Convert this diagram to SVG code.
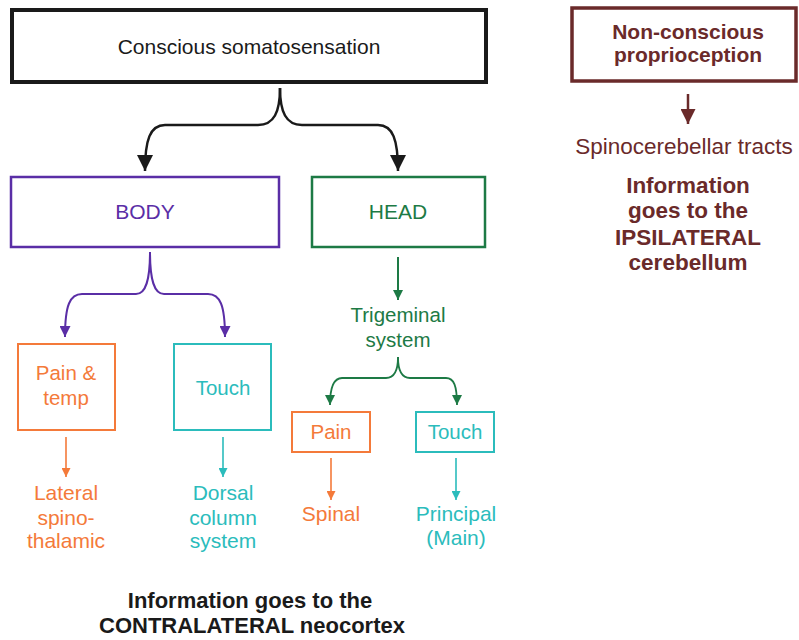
<svg xmlns="http://www.w3.org/2000/svg" width="799" height="640" viewBox="0 0 799 640">
<style>
text{font-family:"Liberation Sans",Arial,sans-serif;text-anchor:middle}
.b{font-weight:bold}
.box{fill:#fff}
.k{fill:#1a1a1a}.pu{fill:#5a2ea6}.gr{fill:#1d7a45}.or{fill:#f47a3a}.cy{fill:#2bbcbc}.mr{fill:#6a2a2a}
.c{fill:none}
</style>
<defs>
<marker id="ak" viewBox="0 0 10 10" refX="10" refY="5" markerWidth="16" markerHeight="16" markerUnits="userSpaceOnUse" orient="auto"><path d="M0,0 L10,5 L0,10 z" fill="#1a1a1a"/></marker>
<marker id="apu" viewBox="0 0 10 10" refX="10" refY="5" markerWidth="11" markerHeight="11" markerUnits="userSpaceOnUse" orient="auto"><path d="M0,0 L10,5 L0,10 z" fill="#5a2ea6"/></marker>
<marker id="agr" viewBox="0 0 10 10" refX="10" refY="5" markerWidth="10" markerHeight="10" markerUnits="userSpaceOnUse" orient="auto"><path d="M0,0 L10,5 L0,10 z" fill="#1d7a45"/></marker>
<marker id="aor" viewBox="0 0 10 10" refX="10" refY="5" markerWidth="9" markerHeight="9" markerUnits="userSpaceOnUse" orient="auto"><path d="M0,0 L10,5 L0,10 z" fill="#f47a3a"/></marker>
<marker id="acy" viewBox="0 0 10 10" refX="10" refY="5" markerWidth="9" markerHeight="9" markerUnits="userSpaceOnUse" orient="auto"><path d="M0,0 L10,5 L0,10 z" fill="#2bbcbc"/></marker>
<marker id="amr" viewBox="0 0 10 10" refX="10" refY="5" markerWidth="15" markerHeight="15" markerUnits="userSpaceOnUse" orient="auto"><path d="M0,0 L10,5 L0,10 z" fill="#6a2a2a"/></marker>
</defs>

<g id="connectors" class="c">
<path d="M280,88 C280,112 274,125 258,125 L165,125 C150,125 145,140 145,171" stroke="#1a1a1a" stroke-width="2.5" marker-end="url(#ak)"/>
<path d="M280,88 C280,112 286,125 302,125 L378,125 C393,125 398,140 398,171" stroke="#1a1a1a" stroke-width="2.5" marker-end="url(#ak)"/>
<path d="M150,252 C150,280 146,294 136,294 L82,294 C70,294 65,305 65,337" stroke="#5a2ea6" stroke-width="2" marker-end="url(#apu)"/>
<path d="M150,252 C150,280 154,294 164,294 L208,294 C220,294 225,305 225,337" stroke="#5a2ea6" stroke-width="2" marker-end="url(#apu)"/>
<path d="M398,257 L398,300" stroke="#1d7a45" stroke-width="2" marker-end="url(#agr)"/>
<path d="M398,357 C398,372 394,378 386,378 L342,378 C334,378 330,386 330,405" stroke="#1d7a45" stroke-width="1.8" marker-end="url(#agr)"/>
<path d="M398,357 C398,372 402,378 410,378 L446,378 C454,378 457,386 457,405" stroke="#1d7a45" stroke-width="1.8" marker-end="url(#agr)"/>
<path d="M66,437 L66,477" stroke="#f47a3a" stroke-width="1.6" marker-end="url(#aor)"/>
<path d="M223,437 L223,477" stroke="#2bbcbc" stroke-width="1.6" marker-end="url(#acy)"/>
<path d="M331,458 L331,500" stroke="#f47a3a" stroke-width="1.6" marker-end="url(#aor)"/>
<path d="M456,458 L456,500" stroke="#2bbcbc" stroke-width="1.6" marker-end="url(#acy)"/>
<path d="M688,94 L688,124" stroke="#6a2a2a" stroke-width="2.5" marker-end="url(#amr)"/>
</g>

<g id="conscious">
<rect class="box" x="12" y="10" width="474" height="72" stroke="#1a1a1a" stroke-width="4"/>
<text x="249" y="54" font-size="21" class="k">Conscious somatosensation</text>
</g>
<g id="nonconscious">
<rect class="box" x="572" y="8" width="224" height="73" stroke="#6a2a2a" stroke-width="3.5"/>
<text x="688" y="39" font-size="21" class="b mr">Non-conscious</text>
<text x="688" y="62" font-size="21" class="b mr">proprioception</text>
</g>
<g id="spinocerebellar">
<text x="684" y="154" font-size="22.5" class="mr">Spinocerebellar tracts</text>
</g>
<g id="ipsilateral">
<text x="688" y="193" font-size="22.5" class="b mr">Information</text>
<text x="688" y="218" font-size="22.5" class="b mr">goes to the</text>
<text x="688" y="245" font-size="22.5" class="b mr">IPSILATERAL</text>
<text x="688" y="270" font-size="22.5" class="b mr">cerebellum</text>
</g>
<g id="body">
<rect class="box" x="11" y="177" width="268" height="70" stroke="#5a2ea6" stroke-width="2.5"/>
<text x="145" y="219" font-size="21" class="pu">BODY</text>
</g>
<g id="head">
<rect class="box" x="312" y="177" width="173" height="70" stroke="#1d7a45" stroke-width="2.5"/>
<text x="398" y="219" font-size="21" class="gr">HEAD</text>
</g>
<g id="trigeminal">
<text x="398" y="322" font-size="20.5" class="gr">Trigeminal</text>
<text x="398" y="347" font-size="20.5" class="gr">system</text>
</g>
<g id="paintemp">
<rect class="box" x="18" y="344" width="97" height="86" stroke="#f47a3a" stroke-width="2"/>
<text x="66" y="380" font-size="20.5" class="or">Pain &amp;</text>
<text x="66" y="405" font-size="20.5" class="or">temp</text>
</g>
<g id="touch-body">
<rect class="box" x="174" y="344" width="97" height="86" stroke="#2bbcbc" stroke-width="2"/>
<text x="223" y="395" font-size="20.5" class="cy">Touch</text>
</g>
<g id="pain-head">
<rect class="box" x="292" y="412" width="78" height="40" stroke="#f47a3a" stroke-width="2"/>
<text x="331" y="439" font-size="20.5" class="or">Pain</text>
</g>
<g id="touch-head">
<rect class="box" x="416" y="412" width="78" height="40" stroke="#2bbcbc" stroke-width="2"/>
<text x="455" y="439" font-size="20.5" class="cy">Touch</text>
</g>
<g id="lateral">
<text x="66" y="500" font-size="21" class="or">Lateral</text>
<text x="66" y="525" font-size="21" class="or">spino-</text>
<text x="66" y="548" font-size="21" class="or">thalamic</text>
</g>
<g id="dorsal">
<text x="223" y="500" font-size="21" class="cy">Dorsal</text>
<text x="223" y="525" font-size="21" class="cy">column</text>
<text x="223" y="548" font-size="21" class="cy">system</text>
</g>
<g id="spinal">
<text x="331" y="521" font-size="21" class="or">Spinal</text>
</g>
<g id="principal">
<text x="456" y="521" font-size="21" class="cy">Principal</text>
<text x="456" y="545" font-size="21" class="cy">(Main)</text>
</g>
<g id="contralateral">
<text x="250" y="608" font-size="22" class="b k">Information goes to the</text>
<text x="252" y="633" font-size="22" class="b k">CONTRALATERAL neocortex</text>
</g>
</svg>
